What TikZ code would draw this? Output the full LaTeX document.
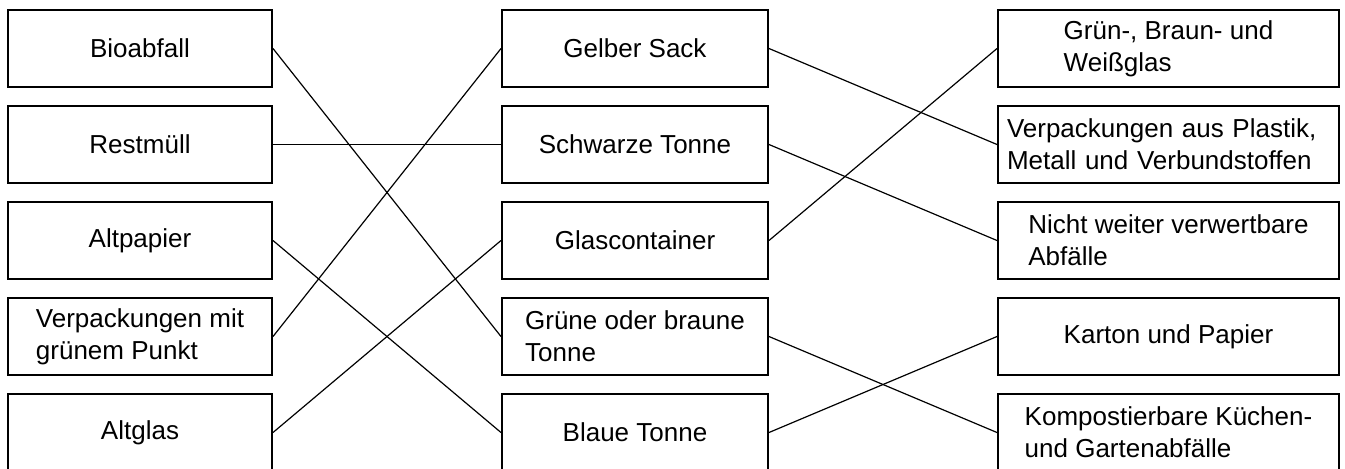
\documentclass[tikz,border=0pt]{standalone}
\usepackage{fontspec}
\setmainfont{Liberation Sans}
\tikzset{every picture/.style={x=0.5pt,y=-0.5pt}}
\tikzset{bin/.style={rectangle,draw,line width=1pt,inner sep=0pt,minimum height=38.5pt,align=left,font=\fontsize{13}{16}\selectfont}}
\tikzset{lcol/.style={bin,minimum width=132pt}}
\tikzset{mcol/.style={bin,minimum width=133pt}}
\tikzset{rcol/.style={bin,minimum width=170.5pt}}
\tikzset{link/.style={line width=0.6pt}}
\begin{document}
\begin{tikzpicture}
\useasboundingbox (0,0) rectangle (1345,468);

\node [lcol] (a1) at (140,48.5) {Bioabfall};
\node [lcol] (a2) at (140,144.5) {Restmüll};
\node [lcol] (a3) at (140,240.5) {Altpapier};
\node [lcol] (a4) at (140,336.5) {Verpackungen mit\\grünem Punkt};
\node [lcol] (a5) at (140,432.5) {Altglas};

\node [mcol] (b1) at (635,48.5) {Gelber Sack};
\node [mcol] (b2) at (635,144.5) {Schwarze Tonne};
\node [mcol] (b3) at (635,240.5) {Glascontainer};
\node [mcol] (b4) at (635,336.5) {Grüne oder braune\\Tonne};
\node [mcol] (b5) at (635,432.5) {Blaue Tonne};

\node [rcol] (c1) at (1168.5,48.5) {Grün-, Braun- und\\Weißglas};
\node [rcol,text width=161.5pt,inner xsep=4.5pt] (c2) at (1168.5,144.5) {Verpackungen aus Plastik,\\Metall und Verbundstoffen};
\node [rcol] (c3) at (1168.5,240.5) {Nicht weiter verwertbare\\Abfälle};
\node [rcol] (c4) at (1168.5,336.5) {Karton und Papier};
\node [rcol] (c5) at (1168.5,432.5) {Kompostierbare Küchen-\\und Gartenabfälle};

\draw [link] (a1.east) -- (b4.west);
\draw [link] (a2.east) -- (b2.west);
\draw [link] (a3.east) -- (b5.west);
\draw [link] (a4.east) -- (b1.west);
\draw [link] (a5.east) -- (b3.west);

\draw [link] (b1.east) -- (c2.west);
\draw [link] (b2.east) -- (c3.west);
\draw [link] (b3.east) -- (c1.west);
\draw [link] (b4.east) -- (c5.west);
\draw [link] (b5.east) -- (c4.west);
\end{tikzpicture}
\end{document}
